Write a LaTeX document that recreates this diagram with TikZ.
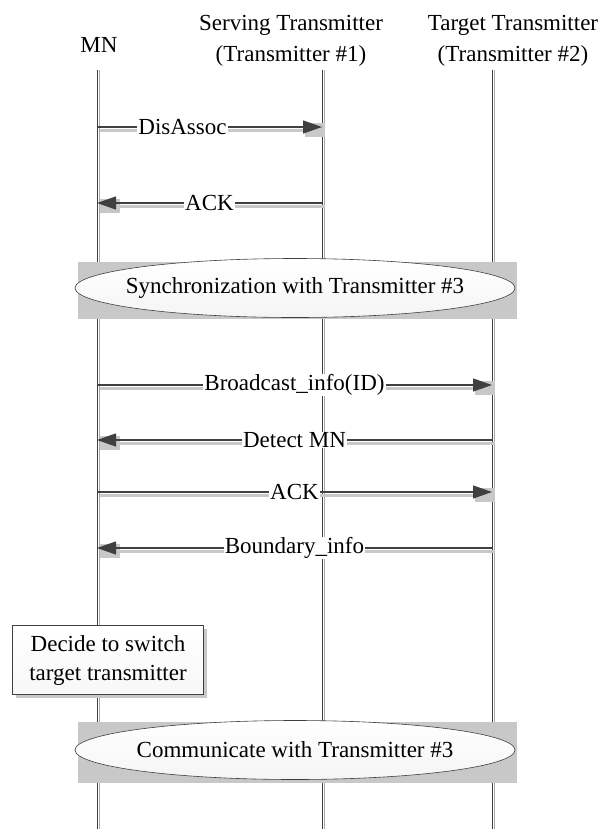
\documentclass[tikz,border=0pt]{standalone}
\usepackage{fontspec}
\setmainfont{Liberation Serif}
\usetikzlibrary{arrows.meta,shapes.geometric,shadows}
\definecolor{linegray}{HTML}{404040}
\definecolor{shadegray}{HTML}{C8C8C8}
\tikzset{
	lifeline/.style={draw=linegray, line width=0.7pt},
	lifeshade/.style={draw=shadegray!85!black, line width=1pt},
	msg/.style={draw=linegray, line width=1.3pt, -{Triangle[length=19pt,width=13pt]}},
	msgshade/.style={draw=shadegray, line width=3pt, -{Rectangle[length=20pt,width=14pt]}, transform canvas={shift={(3pt,-3pt)}}},
	lbl/.style={fill=white, inner xsep=1pt, inner ysep=0pt, font=\fontsize{23}{28}\selectfont},
	head/.style={align=center, inner sep=0pt, font=\fontsize{23}{31}\selectfont},
	phase/.style={ellipse, draw=linegray, line width=0.6pt, top color=white, bottom color=gray!8, minimum width=440pt, minimum height=59pt, inner xsep=-20pt, inner ysep=0pt, font=\fontsize{23}{28}\selectfont},
	note/.style={draw=linegray, line width=0.6pt, top color=white, bottom color=gray!6, align=center, minimum width=191pt, minimum height=69pt, inner sep=0pt, font=\fontsize{23}{29}\selectfont, drop shadow={shadow xshift=3pt, shadow yshift=-3pt, fill=shadegray, opacity=1}}
}
\begin{document}
\begin{tikzpicture}[x=1pt,y=-1pt]
			\useasboundingbox (0,0) rectangle (603,831);
			\node[head] (mn) at (99,45) {MN};
			\node[head] (serving) at (291,41) {Serving Transmitter\\(Transmitter \#1)};
			\node[head] (target) at (513,41) {Target Transmitter\\(Transmitter \#2)};
			\foreach \x/\nm in {97/mn,322/st,492/tt} {
				\coordinate (\nm top) at (\x,70);
				\coordinate (\nm bot) at (\x,829);
				\draw[lifeshade] ([xshift=2pt]\nm top) -- ([xshift=2pt]\nm bot);
				\draw[lifeline] (\nm top) -- (\nm bot);
			}
			\fill[shadegray] (78,262) rectangle (517,319);
			\node[phase] (sync) at (295,288) {Synchronization with Transmitter \#3};
			\fill[shadegray] (78,722) rectangle (517,783);
			\node[phase] (comm) at (295,750) {Communicate with Transmitter \#3};
			\node[note] (decide) at (108,660) {Decide to switch\\target transmitter};
			\foreach \n/\y in {1/127,2/203,3/385,4/440,5/492,6/548} {
				\coordinate (mn\n) at (97,\y);
				\coordinate (st\n) at (322,\y);
				\coordinate (tt\n) at (492,\y);
			}
			\foreach \a/\b/\p/\t in {mn1/st1/.38/DisAssoc, st2/mn2/.5/ACK, mn3/tt3/.5/Broadcast\_info(ID), tt4/mn4/.5/Detect MN, mn5/tt5/.5/ACK, tt6/mn6/.5/Boundary\_info} {
				\draw[msgshade] (\a) -- (\b);
				\draw[msg] (\a) -- node[lbl,pos=\p] {\t} (\b);
			}
		\end{tikzpicture}
\end{document}
